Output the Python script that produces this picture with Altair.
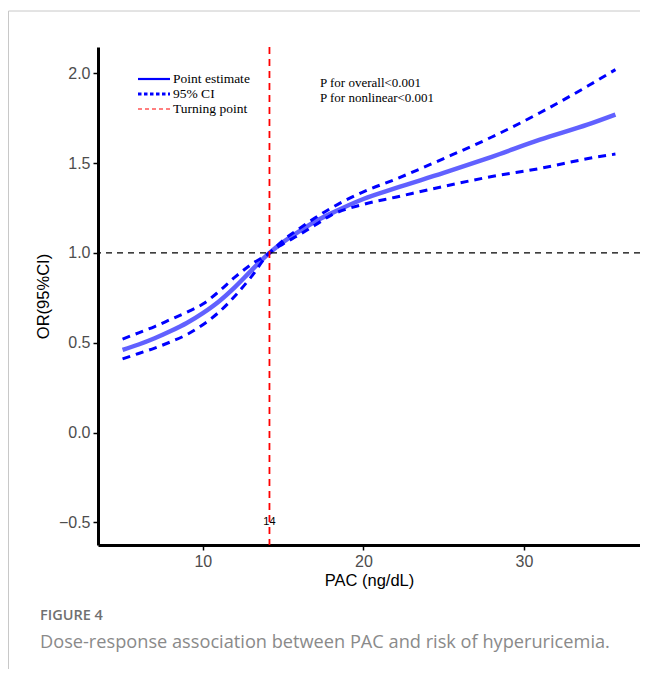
import altair as alt
import pandas as pd

# ---- data ----
pac = [5.0, 6, 7, 8, 9, 10, 11, 12, 13, 14.15, 15, 16, 17, 18, 20, 22, 25, 28, 31, 34, 35.7]
estimate = [0.46, 0.49, 0.525, 0.565, 0.61, 0.665, 0.73, 0.81, 0.90, 1.0, 1.06, 1.12, 1.175,
            1.22, 1.30, 1.36, 1.445, 1.535, 1.63, 1.715, 1.77]
upper = [0.52, 0.555, 0.59, 0.63, 0.67, 0.715, 0.785, 0.865, 0.935, 1.0, 1.07, 1.135, 1.195,
         1.25, 1.34, 1.41, 1.525, 1.645, 1.78, 1.93, 2.02]
lower = [0.41, 0.44, 0.47, 0.505, 0.545, 0.60, 0.67, 0.76, 0.865, 1.0, 1.05, 1.10, 1.155,
         1.21, 1.27, 1.31, 1.37, 1.425, 1.47, 1.525, 1.55]
turning_point = 14.15
turning_label = "14"
reference_or = 1.0
x_ticks = [10, 20, 30]
y_ticks = [-0.5, 0.0, 0.5, 1.0, 1.5, 2.0]
legend_labels = ["Point estimate", "95% CI", "Turning point"]
p_texts = ["P for overall<0.001", "P for nonlinear<0.001"]
caption_head = "FIGURE 4"
caption = "Dose-response association between PAC and risk of hyperuricemia."

W, H = 542, 498

df_est = pd.DataFrame({"pac": pac, "or": estimate})
df_ci = pd.concat([
    pd.DataFrame({"pac": pac, "or": upper, "bound": "upper"}),
    pd.DataFrame({"pac": pac, "or": lower, "bound": "lower"}),
])

x_scale = alt.Scale(domain=[3.47, 37.23], nice=False, zero=False)
y_scale = alt.Scale(domain=[-0.626, 2.146], nice=False, zero=False)

common_axis = dict(domainColor="black", domainWidth=3, tickColor="black", tickWidth=1.5,
                   tickSize=5, labelColor="#4d4d4d", labelFontSize=16,
                   labelFont="Liberation Sans", titleFont="Liberation Sans",
                   titleFontSize=16.5, titleFontWeight="normal", titleColor="black",
                   grid=False)
x_axis = alt.Axis(values=x_ticks, title="PAC (ng/dL)", labelPadding=3, titlePadding=3,
                  **common_axis)
y_axis = alt.Axis(values=y_ticks, title="OR(95%CI)", format=".1f", labelPadding=3,
                  titlePadding=7, **common_axis)


def X(field):
    return alt.X(field, type="quantitative", scale=x_scale, axis=x_axis)


def Y(field):
    return alt.Y(field, type="quantitative", scale=y_scale, axis=y_axis)


est_line = alt.Chart(df_est).mark_line(
    color="#0000ff", opacity=0.62, strokeWidth=4.5, interpolate="monotone"
).encode(x=X("pac"), y=Y("or"))

ci_lines = alt.Chart(df_ci).mark_line(
    color="#0000ff", strokeWidth=3, strokeDash=[8, 6], interpolate="monotone"
).encode(x=X("pac"), y=Y("or"), detail="bound:N")

hline = alt.Chart(pd.DataFrame({"y": [reference_or]})).mark_rule(
    color="black", strokeWidth=1.2, strokeDash=[6, 5]
).encode(y=Y("y"))

vline = alt.Chart(pd.DataFrame({"x": [turning_point]})).mark_rule(
    color="#ff0000", strokeWidth=1.8, strokeDash=[7, 5]
).encode(x=X("x"))

tp_text = alt.Chart(pd.DataFrame({"x": [turning_point], "y": [-0.5], "t": [turning_label]})).mark_text(
    font="Liberation Sans", fontSize=11, color="black", baseline="middle"
).encode(x=X("x"), y=Y("y"), text="t:N")

# manual legend (top-left inside the panel)
leg_y = [32, 47, 62]
leg_styles = [
    dict(color="#0000ff", strokeWidth=2.2),
    dict(color="#0000ff", strokeWidth=3, strokeDash=[3.5, 2.5]),
    dict(color="#ff0000", strokeWidth=1.2, strokeDash=[4, 3]),
]
legend_layers = []
for lab, yy, st in zip(legend_labels, leg_y, leg_styles):
    d = pd.DataFrame({"label": [lab]})
    legend_layers.append(
        alt.Chart(d).mark_rule(**st).encode(x=alt.value(40), x2=alt.value(72), y=alt.value(yy))
    )
    legend_layers.append(
        alt.Chart(d).mark_text(align="left", baseline="middle", font="Liberation Serif",
                               fontSize=13.5, color="black")
        .encode(x=alt.value(75), y=alt.value(yy), text="label:N")
    )

p_layers = []
for txt, yy in zip(p_texts, [36, 51]):
    p_layers.append(
        alt.Chart(pd.DataFrame({"t": [txt]})).mark_text(
            align="left", baseline="middle", font="Liberation Serif", fontSize=13, color="black"
        ).encode(x=alt.value(222), y=alt.value(yy), text="t:N")
    )

cap_head = alt.Chart(pd.DataFrame({"t": [caption_head]})).mark_text(
    align="left", baseline="alphabetic", font="Open Sans", fontSize=14.5, fontWeight=600,
    color="#707070"
).encode(x=alt.value(-58), y=alt.value(573), text="t:N")

cap_text = alt.Chart(pd.DataFrame({"t": [caption]})).mark_text(
    align="left", baseline="alphabetic", font="Open Sans", fontSize=18.2, color="#8a8a8a"
).encode(x=alt.value(-58), y=alt.value(601), text="t:N")

frame_top = alt.Chart(pd.DataFrame({"k": [0]})).mark_rule(color="#c8c8c8", strokeWidth=1).encode(
    x=alt.value(-89.5), x2=alt.value(W + 10), y=alt.value(-36)
)
frame_left = alt.Chart(pd.DataFrame({"k": [0]})).mark_rule(color="#c8c8c8", strokeWidth=1).encode(
    x=alt.value(-89.5), y=alt.value(-36), y2=alt.value(H + 130)
)

chart = alt.layer(
    est_line, ci_lines, hline, vline, tp_text, *legend_layers, *p_layers,
    cap_head, cap_text, frame_top, frame_left
).properties(
    width=W, height=H,
    autosize=alt.AutoSizeParams(type="none"),
    padding={"left": 90, "top": 39, "right": 0, "bottom": 124},
    background="white",
).configure_view(stroke=None)

chart.save("out.html", embed_options={"renderer": "svg", "actions": False})
